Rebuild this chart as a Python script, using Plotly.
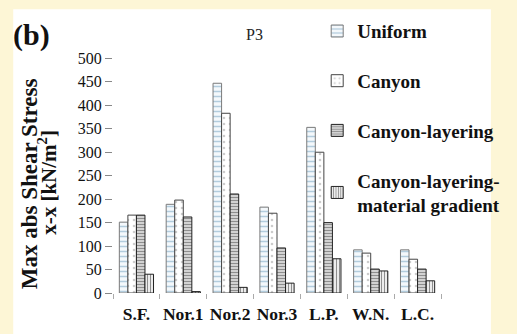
import plotly.graph_objects as go

categories = ["S.F.", "Nor.1", "Nor.2", "Nor.3", "L.P.", "W.N.", "L.C."]
uniform = [151, 189, 447, 183, 353, 92, 92]
canyon = [166, 198, 383, 170, 300, 85, 72]
canyon_layering = [166, 162, 211, 96, 150, 51, 51]
canyon_gradient = [40, 3, 12, 21, 73, 47, 26]
series_names = ["Uniform", "Canyon", "Canyon-layering", "Canyon-layering-<br>material gradient"]
y_ticks = list(range(0, 501, 50))

W, H = 517, 334
ML, MR, MT, MB = 113, 49, 48, 41
PW, PH = W - ML - MR, H - MT - MB

def px(x):
    return (x - ML) / PW

def py(y):
    return (H - MB - y) / PH

styles = [
    dict(color="white", line=dict(color="#7a7a7a", width=1),
         pattern=dict(shape="-", fgcolor="#6f9fbf", bgcolor="#f4f8fb", size=5, solidity=0.3)),
    dict(color="white", line=dict(color="#444444", width=1),
         pattern=dict(shape=".", fgcolor="#9a9a9a", bgcolor="white", size=6, solidity=0.15)),
    dict(color="white", line=dict(color="#222222", width=1),
         pattern=dict(shape="-", fgcolor="#1e1e1e", bgcolor="white", size=3, solidity=0.6)),
    dict(color="white", line=dict(color="#222222", width=1),
         pattern=dict(shape="|", fgcolor="#1e1e1e", bgcolor="white", size=3, solidity=0.45)),
]

fig = go.Figure()
for name, vals, st in zip(series_names, [uniform, canyon, canyon_layering, canyon_gradient], styles):
    fig.add_trace(go.Bar(x=categories, y=vals, name=name, marker=st, legendgroup=name))

serif = "Liberation Serif"
fig.update_layout(
    width=W, height=H,
    margin=dict(l=ML, r=MR, t=MT, b=MB, pad=0),
    paper_bgcolor="#fdf6d6",
    plot_bgcolor="rgba(0,0,0,0)",
    barmode="group", bargap=0.27, bargroupgap=0,
    font=dict(family=serif, color="#111111"),
    showlegend=True,
    legend=dict(x=px(334), y=py(11), xanchor="left", yanchor="top",
                bgcolor="rgba(0,0,0,0)", borderwidth=0, maxheight=300,
                font=dict(family=serif, size=19, color="#111111", weight="bold"),
                tracegroupgap=22, itemwidth=30),
    xaxis=dict(showgrid=False, showline=False, zeroline=False, automargin=False,
               ticks="outside", tickson="boundaries", ticklen=5, tickcolor="#aaaaaa",
               ticklabelstandoff=8, tickangle=0,
               tickfont=dict(family=serif, size=17.5, color="#111111", weight="bold")),
    yaxis=dict(range=[0, 520], tickvals=y_ticks, showgrid=False, showline=False, zeroline=False,
               automargin=False,
               ticks="outside", ticklen=7, tickcolor="#888888",
               tickfont=dict(family=serif, size=16, color="#111111")),
    shapes=[dict(type="rect", xref="paper", yref="paper", layer="below",
                 x0=px(5), x1=px(W + 5), y0=py(H + 5), y1=py(8),
                 fillcolor="white", line=dict(width=0))],
    annotations=[
        dict(text="(b)", x=px(3), y=py(34), xref="paper", yref="paper", xanchor="left", yanchor="middle",
             showarrow=False, font=dict(family=serif, size=30, weight="bold", color="#111111")),
        dict(text="P3", x=px(266), y=py(33), xref="paper", yref="paper", xanchor="center", yanchor="middle",
             showarrow=False, font=dict(family=serif, size=16, color="#222222")),
        dict(text="Max abs Shear Stress", x=px(23), y=py(183), xref="paper", yref="paper",
             xanchor="center", yanchor="middle", textangle=-90,
             showarrow=False, font=dict(family=serif, size=23, weight="bold", color="#111111")),
        dict(text="x-x [kN/m<sup>2</sup>]", x=px(42), y=py(182), xref="paper", yref="paper",
             xanchor="center", yanchor="middle", textangle=-90,
             showarrow=False, font=dict(family=serif, size=21, weight="bold", color="#111111")),
    ],
)

fig.write_html("out.html")
